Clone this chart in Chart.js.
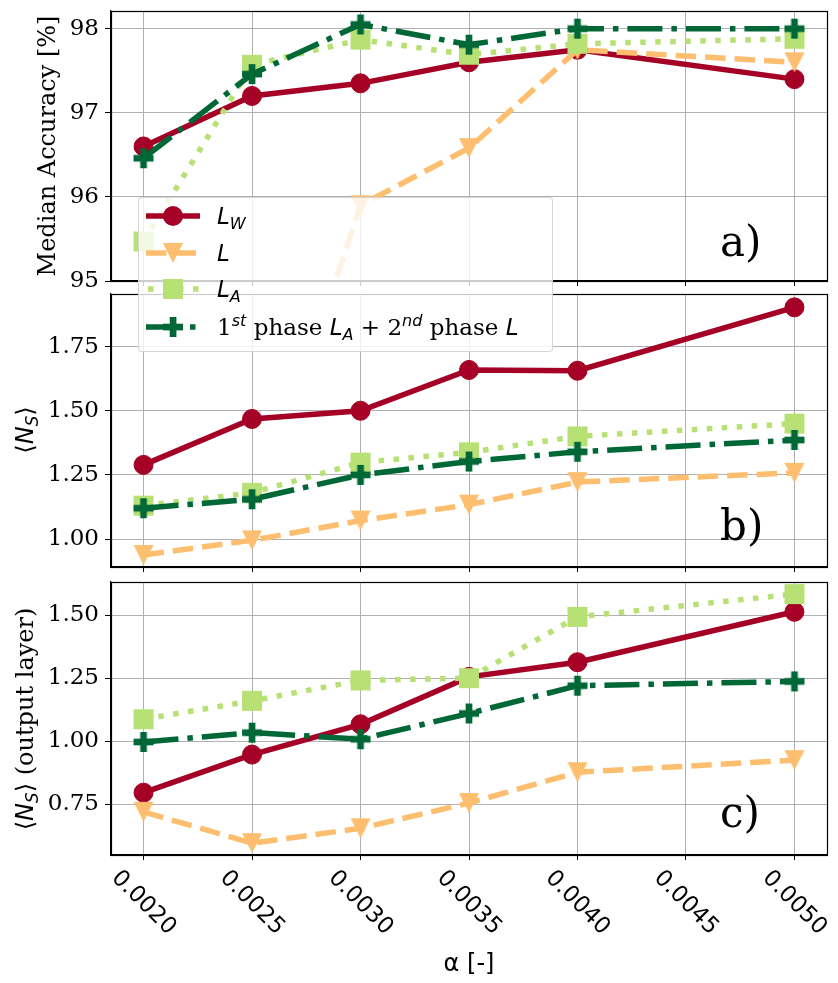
<!DOCTYPE html>
<html>
<head>
<meta charset="utf-8">
<script src="https://cdn.jsdelivr.net/npm/chart.js@4.4.1/dist/chart.umd.min.js"></script>
<style>
  html, body { margin: 0; padding: 0; background: #fff; }
  #wrap { position: relative; width: 838px; height: 983px; overflow: hidden; background: #fff; }
  #wrap canvas { position: absolute; left: 0; top: 0; }
  .ylab { position: absolute; font-family: 'DejaVu Serif'; font-size: 24px; line-height: 1.2; white-space: nowrap;
          transform: translate(-50%, -50%) rotate(-90deg); color: #000; z-index: 3; }
  .m { font-family: 'DejaVu Sans'; font-style: italic; }
  .mu { font-family: 'DejaVu Sans'; }
  .sb { font-size: 0.7em; vertical-align: -0.3em; line-height: 0; }
  .sp { font-size: 0.7em; vertical-align: 0.55em; line-height: 0; }
  #legend { position: absolute; left: 138px; top: 197px; width: 413px; height: 153px;
            background: rgba(255,255,255,0.8); border: 1px solid rgba(204,204,204,0.8); border-radius: 4px;
            font-family: 'DejaVu Serif'; font-size: 23px; z-index: 5; color: #000; }
  .row { position: absolute; left: 0; width: 100%; height: 30px; }
  .row svg { position: absolute; left: 6px; top: 0; }
  .row .t { position: absolute; left: 78px; top: 0; line-height: 30px; white-space: nowrap; }
</style>
</head>
<body>
<div id="wrap">
  <canvas id="ca" width="838" height="983"></canvas>
  <canvas id="cb" width="838" height="983"></canvas>
  <canvas id="cc" width="838" height="983"></canvas>

  <div class="ylab" style="left:25px; top:430px;"><span class="mu">⟨</span><span class="m">N</span><span class="m sb">S</span><span class="mu">⟩</span></div>
  <div class="ylab" style="left:25px; top:719px;"><span class="mu">⟨</span><span class="m">N</span><span class="m sb">S</span><span class="mu">⟩</span> (output layer)</div>

  <div id="legend">
    <div class="row" style="top:3px;">
      <svg width="56" height="30"><line x1="1" y1="15" x2="55" y2="15" stroke="#a50026" stroke-width="5.5"/><circle cx="28" cy="15" r="10" fill="#a50026"/></svg>
      <div class="t"><span class="m">L</span><span class="m sb">W</span></div>
    </div>
    <div class="row" style="top:39.5px;">
      <svg width="56" height="30"><line x1="1" y1="15" x2="55" y2="15" stroke="#fdbf6f" stroke-width="5.5" stroke-dasharray="20.5 9"/><polygon points="18,5 38,5 28,25" fill="#fdbf6f"/></svg>
      <div class="t"><span class="m">L</span></div>
    </div>
    <div class="row" style="top:75.5px;">
      <svg width="56" height="30"><line x1="3" y1="15" x2="55" y2="15" stroke="#b7e075" stroke-width="5.5" stroke-dasharray="5.5 9.5"/><rect x="18" y="5" width="20" height="20" fill="#b7e075"/></svg>
      <div class="t"><span class="m">L</span><span class="m sb">A</span></div>
    </div>
    <div class="row" style="top:113.5px;">
      <svg width="56" height="30"><line x1="1" y1="15" x2="55" y2="15" stroke="#006837" stroke-width="5.5" stroke-dasharray="35 9 5.5 9"/><rect x="24.7" y="5" width="6.7" height="20" fill="#006837"/><rect x="18" y="11.7" width="20" height="6.7" fill="#006837"/></svg>
      <div class="t">1<span class="m sp">st</span> phase <span class="m">L</span><span class="m sb">A</span> + 2<span class="m sp">nd</span> phase <span class="m">L</span></div>
    </div>
  </div>
</div>

<script>
// ---------------- data ----------------
const alpha = [0.0020, 0.0025, 0.0030, 0.0035, 0.0040, 0.0050];
const xTicks = [0.0020, 0.0025, 0.0030, 0.0035, 0.0040, 0.0045, 0.0050];
const xTickLabels = ['0.0020', '0.0025', '0.0030', '0.0035', '0.0040', '0.0045', '0.0050'];
const seriesNames = ['L_W', 'L', 'L_A', '1st phase L_A + 2nd phase L'];

// a) median accuracy [%]
const accLW = [96.60, 97.20, 97.35, 97.60, 97.75, 97.40];
const accL  = [90.90, 92.00, 95.90, 96.58, 97.75, 97.60];
const accLA = [95.47, 97.57, 97.87, 97.69, 97.82, 97.88];
const accPh = [96.46, 97.46, 98.05, 97.81, 98.00, 98.00];
const yTicksA = [95, 96, 97, 98];
const yTickLabelsA = ['95', '96', '97', '98'];

// b) <N_S>
const nsLW = [1.289, 1.468, 1.500, 1.659, 1.656, 1.903];
const nsL  = [0.938, 0.995, 1.072, 1.134, 1.222, 1.258];
const nsLA = [1.130, 1.180, 1.298, 1.338, 1.400, 1.450];
const nsPh = [1.120, 1.155, 1.250, 1.302, 1.340, 1.386];
const yTicksB = [1.00, 1.25, 1.50, 1.75];
const yTickLabelsB = ['1.00', '1.25', '1.50', '1.75'];

// c) <N_S> (output layer)
const outLW = [0.796, 0.947, 1.067, 1.255, 1.313, 1.513];
const outL  = [0.720, 0.596, 0.655, 0.755, 0.877, 0.925];
const outLA = [1.087, 1.160, 1.241, 1.250, 1.493, 1.583];
const outPh = [0.997, 1.034, 1.008, 1.110, 1.220, 1.237];
const yTicksC = [0.75, 1.00, 1.25, 1.50];
const yTickLabelsC = ['0.75', '1.00', '1.25', '1.50'];

// ---------------- styles ----------------
const COL = { LW: '#a50026', L: '#fdbf6f', LA: '#b7e075', Ph: '#006837' };
const LW_WIDTH = 5.5;

function makeMarker(kind, color, size) {
  const c = document.createElement('canvas');
  const s = size + 2;
  c.width = s; c.height = s;
  const g = c.getContext('2d');
  g.fillStyle = color;
  const o = 1, S = size;
  if (kind === 'tri') { g.beginPath(); g.moveTo(o, o); g.lineTo(o + S, o); g.lineTo(o + S / 2, o + S); g.closePath(); g.fill(); }
  if (kind === 'sq') { g.fillRect(o, o, S, S); }
  if (kind === 'plus') { const a = S / 3; g.fillRect(o + a, o, a, S); g.fillRect(o, o + a, S, a); }
  return c;
}
const MK = {
  L: makeMarker('tri', COL.L, 20),
  LA: makeMarker('sq', COL.LA, 20),
  Ph: makeMarker('plus', COL.Ph, 20)
};

function ds(label, values, color, style, radius, dash, order) {
  return {
    label,
    data: alpha.map((x, i) => ({ x, y: values[i] })),
    borderColor: color, backgroundColor: color,
    borderWidth: LW_WIDTH, borderDash: dash,
    pointStyle: style, pointRadius: radius, pointHoverRadius: radius,
    pointBackgroundColor: color, pointBorderColor: color, pointBorderWidth: 1,
    tension: 0, clip: 0, order
  };
}
function datasets(lw, l, la, ph) {
  return [
    ds(seriesNames[0], lw, COL.LW, 'circle', 9.5, [], 4),
    ds(seriesNames[1], l, COL.L, MK.L, 10, [20.5, 9], 3),
    ds(seriesNames[2], la, COL.LA, MK.LA, 10, [5.5, 9.5], 2),
    ds(seriesNames[3], ph, COL.Ph, MK.Ph, 10, [35, 9, 5.5, 9], 1)
  ];
}

// ---------------- plugins ----------------
const framePlugin = {
  id: 'frame',
  afterDatasetsDraw(chart) {
    const { ctx, chartArea: a } = chart;
    ctx.save();
    ctx.strokeStyle = '#000';
    ctx.lineWidth = 1.2;
    ctx.strokeRect(Math.round(a.left) + 0.5, Math.round(a.top) + 0.5, Math.round(a.right - a.left), Math.round(a.bottom - a.top));
    ctx.restore();
  }
};
const panelLabelPlugin = {
  id: 'panelLabel',
  afterDraw(chart, args, opts) {
    if (!opts || !opts.text) return;
    const { ctx, chartArea: a } = chart;
    ctx.save();
    ctx.font = '42px "DejaVu Serif"';
    ctx.fillStyle = '#000';
    ctx.textAlign = 'left';
    ctx.textBaseline = 'alphabetic';
    ctx.fillText(opts.text, a.right - opts.dx, a.bottom - opts.dy);
    ctx.restore();
  }
};
const xLabelPlugin = {
  id: 'xLabels',
  afterDraw(chart, args, opts) {
    if (!opts || !opts.show) return;
    const sc = chart.scales.x;
    const { ctx, chartArea: a } = chart;
    ctx.save();
    ctx.font = '23px "DejaVu Sans"';
    ctx.fillStyle = '#000';
    ctx.textAlign = 'center';
    ctx.textBaseline = 'middle';
    xTicks.forEach((v, i) => {
      const lab = xTickLabels[i];
      const w = ctx.measureText(lab).width;
      const h = 23 * 1.16;
      const d = (w + h) / Math.SQRT2;
      const x = sc.getPixelForValue(v);
      const y = a.bottom + 10 + d / 2;
      ctx.save();
      ctx.translate(x, y);
      ctx.rotate(Math.PI / 4);
      ctx.fillText(lab, 0, 0);
      ctx.restore();
    });
    ctx.restore();
  }
};

// ---------------- chart builder ----------------
const PAGE_H = 983;
function makeChart(id, top, bottom, yMin, yMax, yTicks, yLabels, data, opts) {
  return new Chart(document.getElementById(id), {
    type: 'line',
    data: { datasets: data },
    plugins: [framePlugin, panelLabelPlugin, xLabelPlugin],
    options: {
      responsive: false, maintainAspectRatio: false, animation: false, events: [],
      layout: { padding: { top: top, right: 8, left: 0, bottom: 0 } },
      plugins: {
        legend: { display: false }, tooltip: { enabled: false },
        panelLabel: opts.panel, xLabels: { show: !!opts.xlabels }
      },
      scales: {
        x: {
          type: 'linear', min: 0.00185, max: 0.00515,
          afterBuildTicks: s => { s.ticks = xTicks.map(v => ({ value: v })); },
          afterFit: s => { s.height = PAGE_H - bottom; s.paddingLeft = 0; s.paddingRight = 0; },
          ticks: { display: false },
          grid: { color: '#b0b0b0', lineWidth: 1, tickColor: '#000', tickLength: 5, tickWidth: 1 },
          border: { display: true, color: '#000', width: 1.2 },
          title: opts.xtitle ? { display: true, text: 'α [-]', font: { family: 'DejaVu Sans', size: 24 }, color: '#000', padding: { top: 0, bottom: 4 } } : { display: false }
        },
        y: {
          type: 'linear', min: yMin, max: yMax,
          afterBuildTicks: s => { s.ticks = yTicks.map(v => ({ value: v })); },
          afterFit: s => { s.width = 111; s.paddingTop = 0; s.paddingBottom = 0; },
          ticks: { font: { family: 'DejaVu Serif', size: 23 }, color: '#000', padding: 6,
                   callback: (v, i) => yLabels[i] },
          grid: { color: '#b0b0b0', lineWidth: 1, tickColor: '#000', tickLength: 6, tickWidth: 1 },
          border: { display: true, color: '#000', width: 1.2 },
          title: opts.ytitle ? { display: true, text: opts.ytitle, font: { family: 'DejaVu Serif', size: 24 }, color: '#000', padding: { top: 34.6, bottom: 0 } } : { display: false }
        }
      }
    }
  });
}

makeChart('ca', 7, 281, 95.0, 98.21, yTicksA, yTickLabelsA, datasets(accLW, accL, accLA, accPh),
  { panel: { text: 'a)', dx: 107, dy: 25 }, ytitle: 'Median Accuracy [%]' });
makeChart('cb', 294, 567, 0.891, 1.955, yTicksB, yTickLabelsB, datasets(nsLW, nsL, nsLA, nsPh),
  { panel: { text: 'b)', dx: 107, dy: 27 } });
makeChart('cc', 582, 855, 0.549, 1.631, yTicksC, yTickLabelsC, datasets(outLW, outL, outLA, outPh),
  { panel: { text: 'c)', dx: 107, dy: 28 }, xlabels: true, xtitle: true });
</script>
</body>
</html>
